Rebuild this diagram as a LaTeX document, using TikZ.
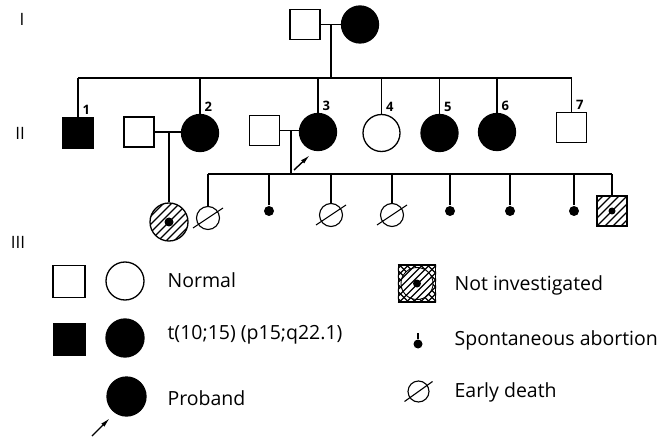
\documentclass[tikz,border=0pt]{standalone}
\usepackage{fontspec}
\setmainfont{Open Sans}
\usetikzlibrary{arrows.meta}

\begin{document}
\begin{tikzpicture}[
        x=1pt, y=-1pt,
        line width=1.2pt,
        % Personen: Quadrat = maennlich, Kreis = weiblich
        male/.style={rectangle, draw, line width=1.3pt, minimum size=30pt, inner sep=0pt},
        female/.style={circle, draw, line width=1.3pt, minimum size=37pt, inner sep=0pt},
        trans/.style={fill=black},
        abort/.style={circle, fill=black, minimum size=10pt, inner sep=0pt},
        death/.style={circle, draw, line width=1.1pt, minimum size=23pt, inner sep=0pt},
        % Beschriftungen
        num/.style={anchor=south west, inner sep=0pt, font=\fontsize{13}{13}\selectfont\bfseries},
        gen/.style={inner sep=0pt, font=\fontsize{17}{17}\selectfont},
        legtext/.style={anchor=base west, inner sep=0pt, font=\fontsize{19.5}{22}\selectfont},
        hatch/.style={line width=1.1pt},
        arrowlead/.style={-{Latex[length=10pt,width=4.5pt]}, line width=1.4pt}
    ]
    \useasboundingbox (0,0) rectangle (663,438);

    % Generationen
    \node[gen] (g1) at (22,19) {I};
    \node[gen] (g2) at (20,133) {II};
    \node[gen] (g3) at (18,242) {III};

    % Generation I
    \node[male] (i1) at (305,24.5) {};
    \node[female, trans] (i2) at (360,24.5) {};
    \coordinate (m1) at (331,24.5);
    \coordinate (s1) at (331,78);
    \draw (i1) -- (i2);
    \draw (m1) -- (s1);

    % Generation II
    \node[male, trans] (ii1) at (78,133) {};
    \node[male] (sp2) at (139,132) {};
    \node[female, trans] (ii2) at (200,133) {};
    \node[male] (sp3) at (264.5,130.5) {};
    \node[female, trans] (ii3) at (318,132) {};
    \node[female] (ii4) at (381.5,133) {};
    \node[female, trans] (ii5) at (439.5,133) {};
    \node[female, trans] (ii6) at (497,132) {};
    \node[male] (ii7) at (571.5,127.5) {};

    \draw (ii1 |- s1) -- (ii7 |- s1);
    \foreach \n/\t in {ii1/1, ii2/2, ii3/3, ii4/4, ii5/5, ii6/6, ii7/7} {
        \draw (\n) -- (\n |- s1);
        \node[num] (l\t) at ([shift={(4,-2)}]\n.north) {\t};
    }
    \draw (sp2) -- (sp2 -| ii2.west);
    \draw (sp3) -- (sp3 -| ii3.west);

    % Generation III
    \coordinate (m2) at (169,132);
    \coordinate (m3) at (291,131);
    \coordinate (s3) at (291,174);
    \node[female, minimum size=38pt] (iii1) at (169,222) {};
    \node[death] (c1) at (208,218) {};
    \node[abort] (c2) at (269,211) {};
    \node[death] (c3) at (331,215) {};
    \node[death] (c4) at (392,215) {};
    \node[abort] (c5) at (450,211) {};
    \node[abort] (c6) at (510,211) {};
    \node[abort] (c7) at (574,211) {};
    \node[male] (c8) at (612,211) {};

    \draw (m2) -- (iii1);
    \draw (m3) -- (s3);
    \draw (c1 |- s3) -- (c8 |- s3);
    \foreach \n in {c1,c2,c3,c4,c5,c6,c7,c8}
        \draw (\n) -- (\n |- s3);
    \foreach \n in {c1,c3,c4}
        \draw[line width=1.1pt] ([shift={(-15,10)}]\n.center) -- ([shift={(15,-10)}]\n.center);

    % Schraffur
    \begin{scope}
        \clip (iii1.center) circle (19);
        \foreach \d in {-48,-40,...,48}
            \draw[hatch] ([shift={(\d-25,25)}]iii1.center) -- ++(50,-50);
    \end{scope}
    \fill (iii1.center) circle (4.5);
    \begin{scope}
        \clip (c8.south west) rectangle (c8.north east);
        \foreach \d in {-40,-32,...,40}
            \draw[hatch] ([shift={(\d-20,20)}]c8.center) -- ++(40,-40);
    \end{scope}
    \fill (c8.center) circle (3.5);

    \coordinate (pa) at (294,170);
    \coordinate (pb) at (310,155);
    \draw[arrowlead] (pa) -- (pb);

    % Legende
    \node[male, minimum size=32pt] (lgm) at (69,281.5) {};
    \node[female, minimum size=38pt] (lgf) at (125,281) {};
    \node[male, trans, minimum size=32pt] (lgmt) at (69.5,339.5) {};
    \node[female, trans, minimum size=38pt] (lgft) at (125,338) {};
    \node[female, trans, minimum size=39pt] (lgp) at (126.5,396.5) {};
    \coordinate (la) at (92,436);
    \coordinate (lb) at (110,418);
    \draw[arrowlead] (la) -- (lb);

    \node[male, minimum size=37pt] (lgn) at (417,283.5) {};
    \begin{scope}
        \clip (lgn.south west) rectangle (lgn.north east);
        \foreach \d in {-48,-41,...,48} {
            \draw[hatch] ([shift={(\d-25,25)}]lgn.center) -- ++(50,-50);
            \draw[hatch] ([shift={(\d-25,-25)}]lgn.center) -- ++(50,50);
        }
        \fill[white] (lgn.center) circle (16);
        \clip (lgn.center) circle (16);
        \foreach \d in {-48,-41,...,48}
            \draw[hatch] ([shift={(\d-25,25)}]lgn.center) -- ++(50,-50);
    \end{scope}
    \draw[line width=0.9pt] (lgn.center) circle (16);
    \fill (lgn.center) circle (4);

    \node[abort, minimum size=9pt] (lga) at (418,344) {};
    \coordinate (lgs) at (418,333);
    \draw (lga) -- (lgs);
    \node[death, minimum size=21pt] (lgd) at (418.5,391.5) {};
    \draw[line width=1.1pt] ([shift={(-14,10)}]lgd.center) -- ([shift={(14,-10)}]lgd.center);

    \node[legtext] (tn) at (167,287) {Normal};
    \node[legtext] (tt) at (167,339) {t(10;15) (p15;q22.1)};
    \node[legtext] (tp) at (167,405) {Proband};
    \node[legtext] (ti) at (454,290) {Not investigated};
    \node[legtext] (ts) at (454,345) {Spontaneous abortion};
    \node[legtext] (te) at (454,397) {Early death};
\end{tikzpicture}
\end{document}
